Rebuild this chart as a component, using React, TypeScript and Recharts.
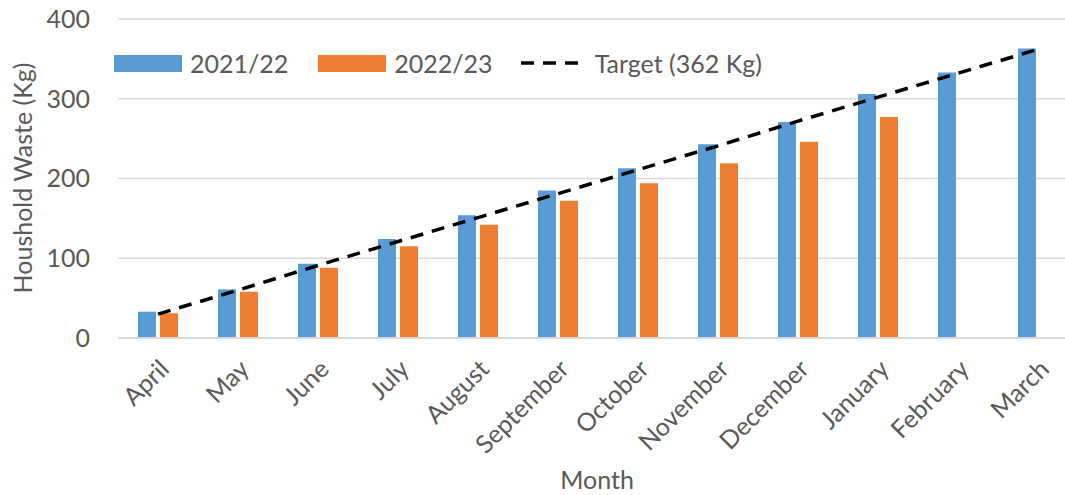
import { Bar, Line, XAxis, YAxis, CartesianGrid, ComposedChart } from "recharts";

const months = ["April", "May", "June", "July", "August", "September", "October", "November", "December", "January", "February", "March"];
const waste2122 = [33, 61, 93, 124, 154, 185, 213, 243, 271, 306, 333, 363];
const waste2223: (number | null)[] = [31, 58, 88, 115, 142, 172, 194, 219, 246, 277, null, null];
const target = [30, 60, 91, 121, 151, 181, 211, 241, 272, 302, 332, 362];
const yTicks = [0, 100, 200, 300, 400];

const data = months.map((m, i) => ({
  month: m,
  a: waste2122[i],
  b: waste2223[i],
  target: target[i],
}));

const FONT = "Lato, 'Noto Sans', sans-serif";
const TEXT = "#595959";

function LegendBox() {
  return (
    <div
      style={{
        position: "absolute",
        top: 48,
        left: 114,
        display: "flex",
        alignItems: "center",
        fontFamily: FONT,
        fontSize: 25,
        color: TEXT,
        whiteSpace: "nowrap",
      }}
    >
      <span style={{ width: 68, height: 17, background: "#5B9BD5", display: "inline-block", marginRight: 8 }} />
      <span style={{ marginRight: 30 }}>2021/22</span>
      <span style={{ width: 68, height: 17, background: "#ED7D31", display: "inline-block", marginRight: 8 }} />
      <span style={{ marginRight: 28 }}>2022/23</span>
      <svg width={60} height={10} style={{ marginRight: 14 }}>
        <line x1={0} y1={5} x2={60} y2={5} stroke="#000" strokeWidth={3.5} strokeDasharray="13 9" />
      </svg>
      <span>Target (362 Kg)</span>
    </div>
  );
}

export default function App() {
  return (
    <div style={{ position: "fixed", left: 0, top: 0, width: 1065, height: 495, overflow: "hidden", background: "#fff" }}>
      <ComposedChart
        width={1080}
        height={495}
        data={data}
        margin={{ top: 19, right: 2, bottom: 0, left: 0 }}
        barGap={4}
        barCategoryGap={20}
      >
        <CartesianGrid vertical={false} stroke="#d9d9d9" strokeWidth={1.5} />
        <XAxis
          dataKey="month"
          height={157}
          axisLine={{ stroke: "#d9d9d9", strokeWidth: 2 }}
          tickLine={false}
          interval={0}
          angle={-45}
          textAnchor="end"
          tickMargin={14}
          tick={{ fontSize: 25, fill: TEXT, fontFamily: FONT }}
          label={{
            content: () => (
              <text x={597} y={479} textAnchor="middle" dominantBaseline="central" fontSize={25} fill={TEXT} fontFamily={FONT}>
                Month
              </text>
            ),
          }}
        />
        <YAxis
          width={118}
          domain={[0, 400]}
          ticks={yTicks}
          axisLine={false}
          tickLine={false}
          tickSize={0}
          tickMargin={28}
          tick={{ fontSize: 25, fill: TEXT, fontFamily: FONT }}
          label={{
            content: () => (
              <text
                x={22}
                y={178}
                transform="rotate(-90 22 178)"
                textAnchor="middle"
                dominantBaseline="central"
                fontSize={25}
                fill={TEXT}
                fontFamily={FONT}
              >
                Houshold Waste (Kg)
              </text>
            ),
          }}
        />
        <Bar dataKey="a" name="2021/22" fill="#5B9BD5" barSize={18} isAnimationActive={false} />
        <Bar dataKey="b" name="2022/23" fill="#ED7D31" barSize={18} isAnimationActive={false} />
        <Line
          dataKey="target"
          name="Target (362 Kg)"
          stroke="#000"
          strokeWidth={3.5}
          strokeDasharray="13 9"
          dot={false}
          activeDot={false}
          isAnimationActive={false}
        />
      </ComposedChart>
      <LegendBox />
    </div>
  );
}
